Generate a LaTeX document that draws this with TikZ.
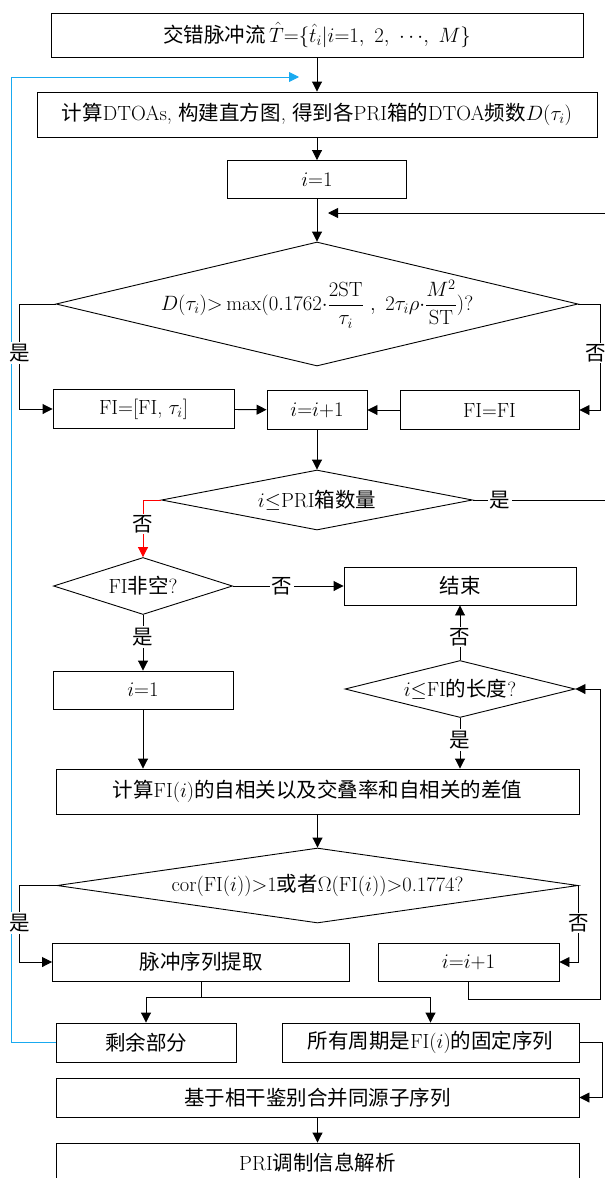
\documentclass[tikz,border=0pt]{standalone}
\usepackage{amsmath}
\usepackage{fontspec}
\newfontfamily\cjkf{Noto Sans CJK SC}
\newcommand{\zh}[1]{{\cjkf #1}}
\usetikzlibrary{arrows.meta,shapes.geometric}
\definecolor{loopblue}{RGB}{25,170,240}
\begin{document}
\begin{tikzpicture}[x=1pt,y=-1pt,
  font=\fontsize{20.5}{24}\selectfont,
  line width=0.9pt,
  >={Triangle[length=10pt,width=10pt]},
  box/.style={draw, rectangle, inner sep=0pt},
  dia/.style={draw, diamond, inner sep=0pt},
  lab/.style={fill=white, inner sep=1.5pt}]
\useasboundingbox (0,0) rectangle (605,1178);

% nodes
\node[box, minimum width=532, minimum height=44] (b1) at (317,35)
  {\zh{交错脉冲流}\,$\hat{T}{=}\{\hat{t}_i|i{=}1,\ 2,\ {\cdots},\ M\}$};
\node[box, minimum width=560, minimum height=45] (b2) at (317,114.5)
  {\zh{计算}DTOAs, \zh{构建直方图}, \zh{得到各}PRI\zh{箱的}DTOA\zh{频数}$D(\tau_i)$};
\node[box, minimum width=179, minimum height=38] (b3) at (317,179.5) {$i{=}1$};
\node[dia, minimum width=522, minimum height=124,
  label=center:{$D(\tau_i){>}\max(0.1762{\cdot}\dfrac{2\mathrm{ST}}{\tau_i}\ ,\ 2\tau_i\rho{\cdot}\dfrac{M^2}{\mathrm{ST}})?$}]
  (d1) at (317,304) {};
\node[box, minimum width=181, minimum height=39] (r1) at (143.5,409) {FI${=}$[FI, $\tau_i$]};
\node[box, minimum width=100, minimum height=39] (r2) at (317,410) {$i{=}i{+}1$};
\node[box, minimum width=179, minimum height=39] (r3) at (489.5,410) {FI=FI};
\node[dia, minimum width=311, minimum height=60,
  label=center:{$i{\le}$PRI\zh{箱数量}}] (d2) at (317,500) {};
\node[dia, minimum width=179, minimum height=57,
  label=center:{FI\zh{非空}?}] (d3) at (143,586) {};
\node[box, minimum width=232, minimum height=38] (end) at (460,586) {\zh{结束}};
\node[box, minimum width=180, minimum height=38] (b4) at (143,690) {$i{=}1$};
\node[dia, minimum width=230, minimum height=57,
  label=center:{$i{\le}$FI\zh{的长度}?}] (d5) at (460,689) {};
\node[box, minimum width=523, minimum height=45] (b5) at (317.5,791.5)
  {\zh{计算}FI($i$)\zh{的自相关以及交叠率和自相关的差值}};
\node[dia, minimum width=521, minimum height=75,
  label=center:{cor(FI($i$))${>}$1\zh{或者}$\Omega$(FI($i$))${>}$0.1774?}] (d4) at (317.5,885.5) {};
\node[box, minimum width=297, minimum height=38] (b6) at (201,962) {\zh{脉冲序列提取}};
\node[box, minimum width=181, minimum height=38] (b7) at (468.5,962) {$i{=}i{+}1$};
\node[box, minimum width=180, minimum height=39] (b8) at (146,1042.5) {\zh{剩余部分}};
\node[box, minimum width=297, minimum height=39] (b9) at (430.5,1042.5) {\zh{所有周期是}FI($i$)\zh{的固定序列}};
\node[box, minimum width=523, minimum height=39] (b10) at (317.5,1097.5) {\zh{基于相干鉴别合并同源子序列}};
\node[box, minimum width=523, minimum height=39] (b11) at (317.5,1162.5) {PRI\zh{调制信息解析}};

% coordinates
\coordinate (loopin) at (328,213);
\coordinate (bluein) at (299,77);
\coordinate (split) at (201,997);

% connectors
\draw[->] (b1) -- (b2);
\draw[->] (b2.south) -- (b2.south |- b3.north);
\draw[->] (b3) -- (d1.north);
\draw[->] (d2.east) -- (610,500) |- (loopin);
\draw[->] (d1.west) -- (19,304) |- (r1.west);
\draw[->] (d1.east) -- (600,304) |- (r3.east);
\draw[->] (r1) -- (r2);
\draw[->] (r3) -- (r2);
\draw[->] (r2.south) -- (r2.south |- d2.north);
\draw[->, red] (d2.west) -| (d3.north);
\draw[->] (d3) -- (end);
\draw[->] (d3) -- (b4);
\draw[->] (d5) -- (end);
\draw[->] (b4.south) -- (b4.south |- b5.north);
\draw[->] (d5.south) -- (d5.south |- b5.north);
\draw[->] (b5.south) -- (b5.south |- d4.north);
\draw[->] (d4.west) -- (19,885.5) |- (b6.west);
\draw[->] (d4.east) |- (b7.east);
\draw[->] (b7.south) |- (600,999) |- (d5.east);
\draw (b6.south) -- (split);
\draw[->] (split) -| (b8.north);
\draw[->] (split) -| (b9.north);
\draw[->, loopblue] (b8.west) -- (11,1042.5) |- (bluein);
\draw[->] (b9.east) -- (602,1042.5) |- (b10.east);
\draw[->] (b10) -- (b11);

% labels on connectors
\node[lab] (l1) at (20,353) {\zh{是}};
\node[lab] (l2) at (596,353) {\zh{否}};
\node[lab] (l3) at (500,500) {\zh{是}};
\node[lab] (l4) at (143,524) {\zh{否}};
\node[lab] (l5) at (282,586) {\zh{否}};
\node[lab] (l6) at (143,637) {\zh{是}};
\node[lab] (l7) at (460,637) {\zh{否}};
\node[lab] (l8) at (460,740) {\zh{是}};
\node[lab] (l9) at (20,923) {\zh{是}};
\node[lab] (l10) at (579,923) {\zh{否}};
\end{tikzpicture}
\end{document}
